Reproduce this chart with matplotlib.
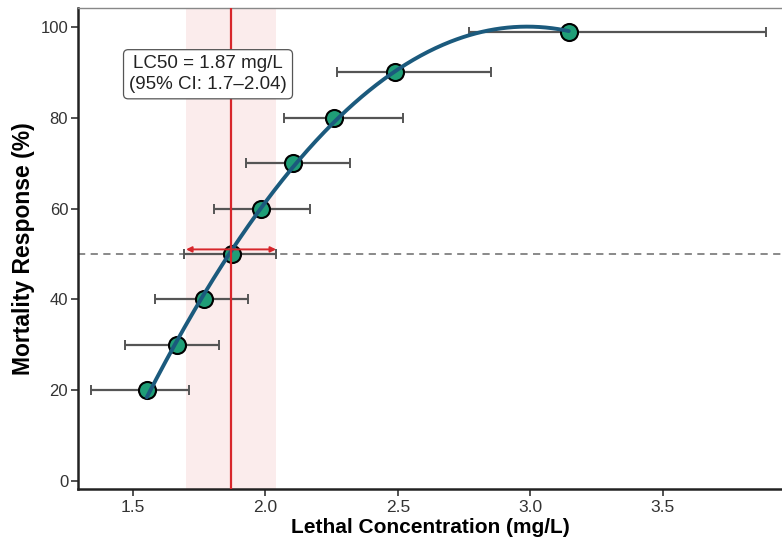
import numpy as np
import matplotlib
matplotlib.use("Agg")
import matplotlib.pyplot as plt

plt.rcParams['font.family'] = ['Liberation Sans', 'DejaVu Sans']

# Data
conc = [1.552, 1.665, 1.769, 1.872, 1.983, 2.104, 2.26, 2.49, 3.145]
mortality = [20, 30, 40, 50, 60, 70, 80, 90, 99]
ci_low = [1.34, 1.469, 1.584, 1.694, 1.807, 1.928, 2.070, 2.271, 2.768]
ci_high = [1.711, 1.825, 1.933, 2.041, 2.167, 2.318, 2.520, 2.851, 3.889]
lc50 = 1.87
lc50_low = 1.70
lc50_high = 2.04
xticks = [1.5, 2.0, 2.5, 3.0, 3.5]
yticks = [0, 20, 40, 60, 80, 100]

fig = plt.figure(figsize=(7.82, 5.44), dpi=100)
ax = fig.add_axes([0.0997, 0.1011, 0.9003, 0.8842])

ax.axvspan(lc50_low, lc50_high, color='#fbe9e9', alpha=0.85, lw=0, zorder=0)
ax.axhline(50, color='#808080', ls=(0, (4, 3)), lw=1.3, zorder=1)

x = np.array(conc); y = np.array(mortality)
xerr = [x - np.array(ci_low), np.array(ci_high) - x]
ax.errorbar(x, y, xerr=xerr, fmt='none', ecolor='#555555', elinewidth=1.6,
            capsize=3.5, capthick=1.4, zorder=2)

ax.scatter(x, y, s=150, facecolor='#1f9e77', edgecolor='black', linewidth=1.5, zorder=3)

xs = np.linspace(x.min(), x.max(), 400)
p2 = np.polyfit(x, y, 2)
ax.plot(xs, np.polyval(p2, xs), color='#1b5a7d', lw=2.8, zorder=4, solid_capstyle='round')

ax.axvline(lc50, color='#d7262b', lw=1.6, zorder=5)
ax.annotate('', xy=(lc50_low, 51), xytext=(lc50_high, 51),
            arrowprops=dict(arrowstyle='<|-|>', color='#d7262b', lw=1.4,
                            mutation_scale=8, shrinkA=0, shrinkB=0), zorder=6)

ax.text(1.783, 89.6, 'LC50 = 1.87 mg/L\n(95% CI: 1.7\u20132.04)', ha='center', va='center',
        fontsize=13.5, linespacing=1.3, color='#222222', zorder=7,
        bbox=dict(boxstyle='round,pad=0.3,rounding_size=0.25', fc='white', ec='#555555', lw=0.9))

ax.set_xlim(1.292, 3.95)
ax.set_ylim(-1.8, 104.2)
ax.set_xticks(xticks)
ax.set_xticklabels([f'{t:.1f}' for t in xticks])
ax.set_yticks(yticks)
ax.tick_params(axis='x', labelsize=12.5, length=5, width=1.2, pad=3)
ax.tick_params(axis='y', labelsize=12, length=5, width=1.2, pad=2)
ax.tick_params(axis='both', colors='#333333', labelcolor='#333333')

for s in ['left', 'bottom']:
    ax.spines[s].set_linewidth(1.8)
    ax.spines[s].set_color('#222222')
ax.spines['top'].set_color('#888888')
ax.spines['top'].set_linewidth(1.0)
ax.spines['right'].set_visible(False)

ax.set_xlabel('Lethal Concentration (mg/L)', fontsize=15, fontweight='bold', labelpad=2)
ax.set_ylabel('Mortality Response (%)', fontsize=16.5, fontweight='bold', labelpad=4)

fig.savefig('out.png', dpi=100)
